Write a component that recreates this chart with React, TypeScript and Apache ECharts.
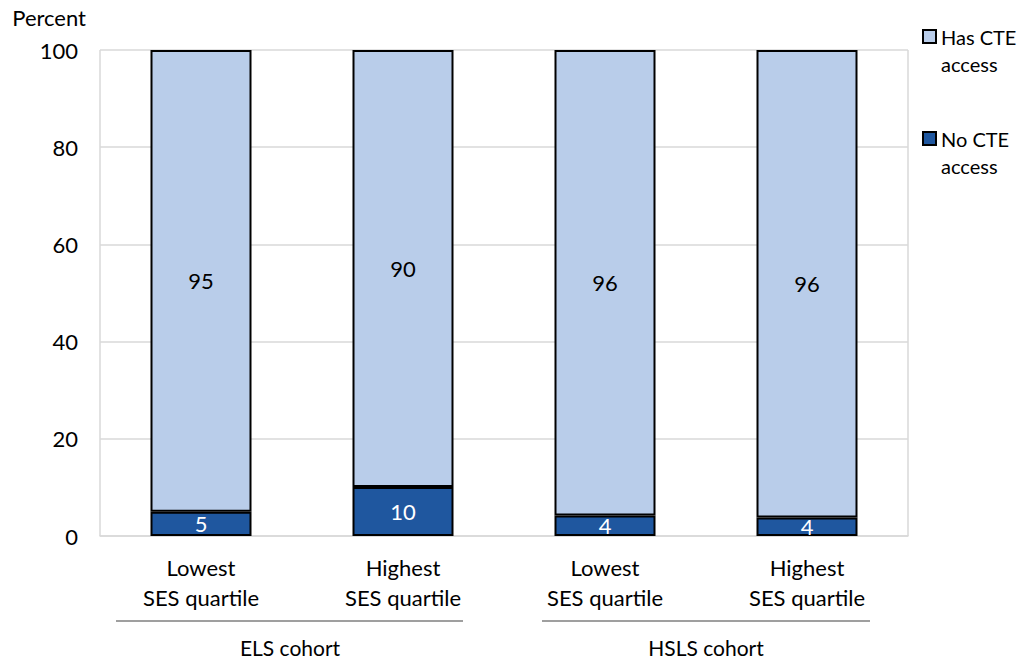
import React, { useEffect, useRef } from "react";
import * as echarts from "echarts";

const categories = ["Lowest\nSES quartile", "Highest\nSES quartile", "Lowest\nSES quartile", "Highest\nSES quartile"];
const noCteAccess = [5.0, 10.1, 4.2, 3.8];
const hasCteAccess = [95.0, 89.9, 95.8, 96.2];
const yTicks = { min: 0, max: 100, interval: 20 };
const cohortLabels = ["ELS cohort", "HSLS cohort"];
const seriesNames = ["Has CTE access", "No CTE access"];
const legendTexts: Record<string, string> = {
  "Has CTE access": "\nHas CTE\naccess",
  "No CTE access": "\nNo CTE\naccess",
};

const FONT = "Lato";
const FS = 22;
const LIGHT = "#B9CDEA";
const DARK = "#1F579F";

export default function App() {
  const ref = useRef<HTMLDivElement>(null);
  useEffect(() => {
    if (!ref.current) return;
    const chart = echarts.init(ref.current, null, { renderer: "svg" });
    const round = (p: any) => String(Math.round(p.value));
    chart.setOption({
      animation: false,
      textStyle: { fontFamily: FONT },
      grid: { left: 100, right: 113, top: 50, bottom: 125, outerBoundsMode: "none" },
      legend: {
        orient: "vertical",
        left: 922,
        top: -4,
        padding: 0,
        itemWidth: 13,
        itemHeight: 13,
        itemGap: 21,
        icon: "rect",
        data: [seriesNames[0], seriesNames[1]],
        formatter: (n: string) => legendTexts[n] || n,
        textStyle: { fontFamily: FONT, fontSize: 20, color: "#000", lineHeight: 27 },
      },
      xAxis: {
        type: "category",
        data: categories,
        axisLine: { lineStyle: { color: "#D9D9D9", width: 1.5 } },
        axisTick: { show: false },
        axisLabel: { color: "#000", fontFamily: FONT, fontSize: FS, lineHeight: 30, margin: 16, interval: 0 },
        splitLine: { show: true, interval: (i: number) => i === 2, lineStyle: { color: "#D9D9D9", width: 1.5 } },
      },
      yAxis: {
        type: "value",
        min: yTicks.min,
        max: yTicks.max,
        interval: yTicks.interval,
        name: "Percent",
        nameLocation: "end",
        nameGap: 22,
        nameTextStyle: { color: "#000", fontFamily: FONT, fontSize: FS, align: "right", padding: [0, 14, 0, 0] },
        axisLine: { show: false },
        axisTick: { show: false },
        axisLabel: { color: "#000", fontFamily: FONT, fontSize: FS, margin: 22 },
        splitLine: { lineStyle: { color: "#D9D9D9", width: 1.5 } },
      },
      series: [
        {
          name: seriesNames[1],
          type: "bar",
          stack: "total",
          barWidth: "50%",
          data: noCteAccess,
          itemStyle: { color: DARK, borderColor: "#000", borderWidth: 2 },
          label: { show: true, position: "inside", color: "#fff", fontFamily: FONT, fontSize: FS, formatter: round },
        },
        {
          name: seriesNames[0],
          type: "bar",
          stack: "total",
          barWidth: "50%",
          data: hasCteAccess,
          itemStyle: { color: LIGHT, borderColor: "#000", borderWidth: 2 },
          label: { show: true, position: "inside", color: "#000", fontFamily: FONT, fontSize: FS, formatter: round },
        },
      ],
      graphic: [
        { type: "line", shape: { x1: 116, y1: 621, x2: 463, y2: 621 }, style: { stroke: "#7F7F7F", lineWidth: 1.5 } },
        { type: "line", shape: { x1: 542, y1: 621, x2: 870, y2: 621 }, style: { stroke: "#7F7F7F", lineWidth: 1.5 } },
        { type: "text", x: 290, y: 647, style: { text: cohortLabels[0], fill: "#000", font: `21px ${FONT}`, align: "center", verticalAlign: "middle" } },
        { type: "text", x: 706, y: 647, style: { text: cohortLabels[1], fill: "#000", font: `21px ${FONT}`, align: "center", verticalAlign: "middle" } },
      ],
    });
    return () => chart.dispose();
  }, []);
  return <div ref={ref} style={{ position: "fixed", left: 0, top: 0, width: 1021, height: 661, background: "#fff" }} />;
}
